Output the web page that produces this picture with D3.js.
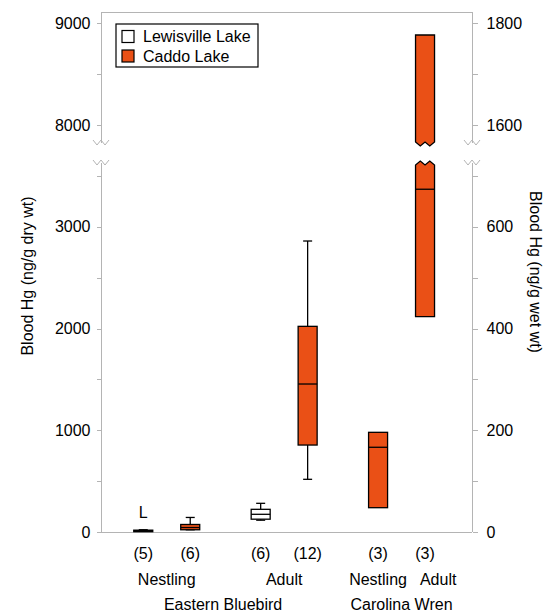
<!DOCTYPE html>
<meta charset="utf-8">
<style>
body { margin: 0; background: #fff; }
text { font: 16px "Liberation Sans", Arial, sans-serif; fill: #000; }
.axis path { display: none; }
.axis line { stroke: #b4b4b4; shape-rendering: crispEdges; }
.axis text { font: 16px "Liberation Sans", Arial, sans-serif; }
.frame { stroke: #b4b4b4; fill: none; shape-rendering: crispEdges; }
.brk { stroke: #b4b4b4; fill: none; }
</style>
<svg width="549" height="613"></svg>
<script src="https://d3js.org/d3.v7.min.js"></script>
<script>

// data (ng/g dry wt)
var lakes = ["Lewisville Lake", "Caddo Lake"];
var lakeColors = ["#ffffff", "#ea5016"];
var boxPos = [0, 1, 2.5, 3.5, 5, 6];
var boxLake = [0, 1, 0, 1, 1, 1];
var boxN = [5, 6, 6, 12, 3, 3];
var boxMin = [8, 22, 116, 518, null, null];
var boxQ1 = [10, 22, 126, 855, 239, 2117];
var boxMed = [13, 44, 174, 1455, 833, 3370];
var boxQ3 = [18, 74, 223, 2022, 980, 8885];
var boxMax = [22, 143, 282, 2861, null, null];
var ageLabels = [{t: "Nestling", p: 0.5}, {t: "Adult", p: 3.0}, {t: "Nestling", p: 5}, {t: "Adult", p: 6.28}];
var speciesLabels = [{t: "Eastern Bluebird", p: 1.7}, {t: "Carolina Wren", p: 5.5}];
var loTicks = [0, 1000, 2000, 3000], loMinor = [500, 1500, 2500, 3500];
var hiTicks = [8000, 9000], hiMinor = [8500];
var wetRatio = 5;

var svg = d3.select("svg"),
    mLeft = 101, mRight = 472, mTop = 12, mBottom = 532,
    brkHi = 143, brkLo = 163, loMax = 3628;

var x = d3.scaleLinear().domain([-0.9, 7]).range([mLeft, mRight]);
var yLo = d3.scaleLinear().domain([0, loMax]).range([mBottom, brkLo]);
var yHi = d3.scaleLinear().domain([7823, 9111]).range([brkHi, mTop]);
var yLoW = d3.scaleLinear().domain([0, loMax / wetRatio]).range([mBottom, brkLo]);
var yHiW = d3.scaleLinear().domain([7823 / wetRatio, 9111 / wetRatio]).range([brkHi, mTop]);

function y(v) { return v > loMax ? yHi(v) : yLo(v); }

// frame
svg.append("line").attr("class", "frame").attr("x1", mLeft).attr("x2", mRight).attr("y1", mTop + 0.5).attr("y2", mTop + 0.5);
svg.append("line").attr("class", "frame").attr("x1", mLeft).attr("x2", mRight).attr("y1", mBottom + 0.5).attr("y2", mBottom + 0.5);
[mLeft, mRight].forEach(function(ax) {
  svg.append("line").attr("class", "frame").attr("x1", ax + 0.5).attr("x2", ax + 0.5).attr("y1", mTop).attr("y2", brkHi);
  svg.append("line").attr("class", "frame").attr("x1", ax + 0.5).attr("x2", ax + 0.5).attr("y1", brkLo).attr("y2", mBottom);
  [brkHi, brkLo].forEach(function(by) {
    svg.append("path").attr("class", "brk")
      .attr("d", "M" + (ax - 8) + "," + (by - 3) + "l4,5l4,-5l4,5l4,-5");
  });
});

// axes
function addAxis(axisFn, scale, major, minor, tx, padding) {
  svg.append("g").attr("class", "axis").attr("transform", "translate(" + tx + ",0)")
    .call(axisFn(scale).tickValues(major).tickSize(5).tickPadding(padding).tickFormat(d3.format("d")));
  svg.append("g").attr("class", "axis").attr("transform", "translate(" + tx + ",0)")
    .call(axisFn(scale).tickValues(minor).tickSize(5).tickFormat(""));
}
addAxis(d3.axisLeft, yLo, loTicks, loMinor, mLeft + 0.5, 6);
addAxis(d3.axisLeft, yHi, hiTicks, hiMinor, mLeft + 0.5, 6);
addAxis(d3.axisRight, yLoW, loTicks.map(function(d) { return d / wetRatio; }), loMinor.map(function(d) { return d / wetRatio; }), mRight + 0.5, 9);
addAxis(d3.axisRight, yHiW, hiTicks.map(function(d) { return d / wetRatio; }), hiMinor.map(function(d) { return d / wetRatio; }), mRight + 0.5, 9);

// axis titles
svg.append("text").attr("transform", "translate(33,276) rotate(-90)").attr("text-anchor", "middle").text("Blood Hg (ng/g dry wt)");
svg.append("text").attr("transform", "translate(530,272) rotate(90)").attr("text-anchor", "middle").text("Blood Hg (ng/g wet wt)");

// boxes
var bw = 19, cap = 9;
var boxes = boxPos.map(function(p, i) {
  return {p: p, lake: boxLake[i], n: boxN[i], min: boxMin[i], q1: boxQ1[i], med: boxMed[i], q3: boxQ3[i], max: boxMax[i]};
});

var g = svg.append("g");
boxes.forEach(function(d) {
  var cx = x(d.p), x0 = cx - bw / 2, x1 = cx + bw / 2;
  var fill = lakeColors[d.lake];
  if (d.max != null) {
    g.append("line").attr("x1", cx).attr("x2", cx).attr("y1", y(d.q3)).attr("y2", y(d.max)).attr("stroke", "#000").attr("stroke-width", 1.3);
    g.append("line").attr("x1", cx - cap / 2).attr("x2", cx + cap / 2).attr("y1", y(d.max)).attr("y2", y(d.max)).attr("stroke", "#000").attr("stroke-width", 1.3);
    g.append("line").attr("x1", cx).attr("x2", cx).attr("y1", y(d.q1)).attr("y2", y(d.min)).attr("stroke", "#000").attr("stroke-width", 1.3);
    g.append("line").attr("x1", cx - cap / 2).attr("x2", cx + cap / 2).attr("y1", y(d.min)).attr("y2", y(d.min)).attr("stroke", "#000").attr("stroke-width", 1.3);
  }
  if (d.q3 > loMax) {
    var w = bw / 4, lb = brkLo + 2, ub = brkHi - 1;
    g.append("path").attr("fill", fill).attr("stroke", "#000").attr("stroke-width", 1.3)
      .attr("d", "M" + x0 + "," + y(d.q3) + "H" + x1 + "V" + ub +
        "l" + (-w) + ",4l" + (-w) + ",-4l" + (-w) + ",4l" + (-w) + ",-4Z");
    g.append("path").attr("fill", fill).attr("stroke", "#000").attr("stroke-width", 1.3)
      .attr("d", "M" + x0 + "," + yLo(d.q1) + "H" + x1 + "V" + lb +
        "l" + (-w) + ",-4l" + (-w) + ",4l" + (-w) + ",-4l" + (-w) + ",4Z");
  } else {
    g.append("rect").attr("x", x0).attr("width", bw)
      .attr("y", y(d.q3)).attr("height", Math.max(1.5, y(d.q1) - y(d.q3)))
      .attr("fill", fill).attr("stroke", "#000").attr("stroke-width", 1.3);
  }
  g.append("line").attr("x1", x0).attr("x2", x1).attr("y1", y(d.med)).attr("y2", y(d.med)).attr("stroke", "#000").attr("stroke-width", 1.3);

  svg.append("text").attr("x", cx).attr("y", 559).attr("text-anchor", "middle").text("(" + d.n + ")");
});

svg.append("text").attr("x", x(boxPos[0])).attr("y", 518).attr("text-anchor", "middle").text("L");

ageLabels.forEach(function(d) {
  svg.append("text").attr("x", x(d.p)).attr("y", 585).attr("text-anchor", "middle").text(d.t);
});
speciesLabels.forEach(function(d) {
  svg.append("text").attr("x", x(d.p)).attr("y", 610).attr("text-anchor", "middle").text(d.t);
});

// legend
var lg = svg.append("g").attr("transform", "translate(116,24)");
lg.append("rect").attr("width", 142).attr("height", 43).attr("fill", "#fff").attr("stroke", "#000").attr("stroke-width", 1.2);
lakes.forEach(function(name, i) {
  lg.append("rect").attr("x", 6).attr("y", 6.5 + i * 19.5).attr("width", 12).attr("height", 12)
    .attr("fill", lakeColors[i]).attr("stroke", "#000").attr("stroke-width", 1.2);
  lg.append("text").attr("x", 27).attr("y", 18 + i * 20).text(name);
});

</script>
